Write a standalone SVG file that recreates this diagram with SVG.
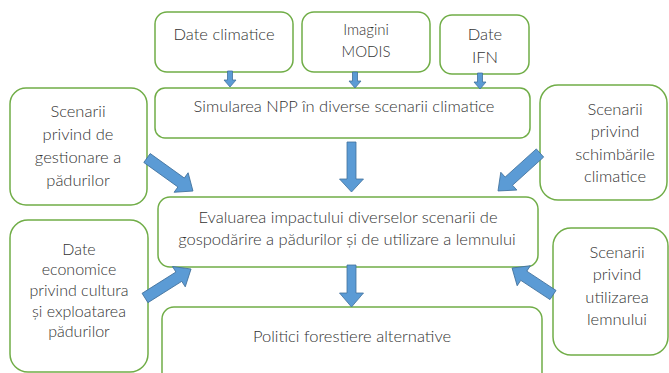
<svg xmlns="http://www.w3.org/2000/svg" width="669" height="373" viewBox="0 0 669 373">
<style>
.box{fill:#fff;stroke:#70AD47;stroke-width:1.5}
.arr{fill:#5B9BD5;stroke:#41719C;stroke-width:0.8}
text{font-family:Lato,"Open Sans","Liberation Sans",sans-serif;font-weight:300;fill:#333;text-anchor:middle}
.t15{font-size:16.5px}
.t13{font-size:15px}
.t14{font-size:16px}
</style>
<rect width="669" height="373" fill="#fff"/>
<g id="n-date-climatice"><rect class="box" x="155" y="12" width="138" height="60" rx="12"/><text class="t15" x="224" y="40">Date climatice</text></g>
<g id="n-modis"><rect class="box" x="302" y="12" width="128" height="60" rx="12"/><text class="t13" x="366" y="35">Imagini</text><text class="t13" x="366" y="57">MODIS</text></g>
<g id="n-ifn"><rect class="box" x="440" y="15" width="89" height="59" rx="12"/><text class="t15" x="485" y="40">Date</text><text class="t15" x="485" y="63">IFN</text></g>
<g id="n-simularea"><rect class="box" x="155" y="88" width="375" height="50" rx="10"/><text class="t15" x="344" y="112">Simularea NPP în diverse scenarii climatice</text></g>
<g id="n-gestionare"><rect class="box" x="10" y="88" width="137" height="117" rx="16"/><text class="t15" x="78" y="117">Scenarii</text><text class="t15" x="78" y="140">privind de</text><text class="t15" x="78" y="163">gestionare a</text><text class="t15" x="78" y="186">pădurilor</text></g>
<g id="n-schimbari"><rect class="box" x="540" y="85" width="127" height="115" rx="18"/><text class="t15" x="615" y="115">Scenarii</text><text class="t15" x="615" y="137">privind</text><text class="t15" x="615" y="160">schimbările</text><text class="t15" x="615" y="182">climatice</text></g>
<g id="n-evaluarea"><rect class="box" x="158" y="197" width="380" height="70" rx="12"/><text class="t15" x="348" y="223">Evaluarea impactului diverselor scenarii de</text><text class="t15" x="347" y="245">gospodărire a pădurilor și de utilizare a lemnului</text></g>
<g id="n-economice"><rect class="box" x="10" y="220" width="138" height="152" rx="18"/><text class="t14" x="79" y="255">Date</text><text class="t14" x="79" y="275">economice</text><text class="t14" x="79" y="296">privind cultura</text><text class="t14" x="79" y="317">și exploatarea</text><text class="t14" x="79" y="337">pădurilor</text></g>
<g id="n-politici"><rect class="box" x="162" y="307" width="380" height="80" rx="12"/><text class="t15" x="352" y="342">Politici forestiere alternative</text></g>
<g id="n-utilizarea"><rect class="box" x="553" y="228" width="115" height="127" rx="18"/><text class="t15" x="617" y="258">Scenarii</text><text class="t15" x="617" y="280">privind</text><text class="t15" x="617" y="303">utilizarea</text><text class="t15" x="617" y="325">lemnului</text></g>
<g id="connectors">
<polygon class="arr" transform="translate(230,71) rotate(90)" points="0,-2.5 9,-2.5 9,-6 16,0 9,6 9,2.5 0,2.5"/>
<polygon class="arr" transform="translate(355,72) rotate(90)" points="0,-2.5 9,-2.5 9,-6 16,0 9,6 9,2.5 0,2.5"/>
<polygon class="arr" transform="translate(480,73) rotate(90)" points="0,-2.5 9,-2.5 9,-6 16,0 9,6 9,2.5 0,2.5"/>
<polygon class="arr" transform="translate(351.5,142) rotate(90)" points="0,-4.5 37,-4.5 37,-12 50,0 37,12 37,4.5 0,4.5"/>
<polygon class="arr" transform="translate(351.5,265) rotate(90)" points="0,-4.5 28,-4.5 28,-12 42,0 28,12 28,4.5 0,4.5"/>
<polygon class="arr" transform="translate(147,158) rotate(35.7)" points="0,-5.5 42,-5.5 42,-12 56.6,0 42,12 42,5.5 0,5.5"/>
<polygon class="arr" transform="translate(540,153) rotate(137.9)" points="0,-5.5 42,-5.5 42,-12 56.6,0 42,12 42,5.5 0,5.5"/>
<polygon class="arr" transform="translate(145,298) rotate(-32.2)" points="0,-5.5 40,-5.5 40,-12 54.4,0 40,12 40,5.5 0,5.5"/>
<polygon class="arr" transform="translate(553,295) rotate(-146.6)" points="0,-5.5 35,-5.5 35,-12 49,0 35,12 35,5.5 0,5.5"/>
</g>
</svg>
